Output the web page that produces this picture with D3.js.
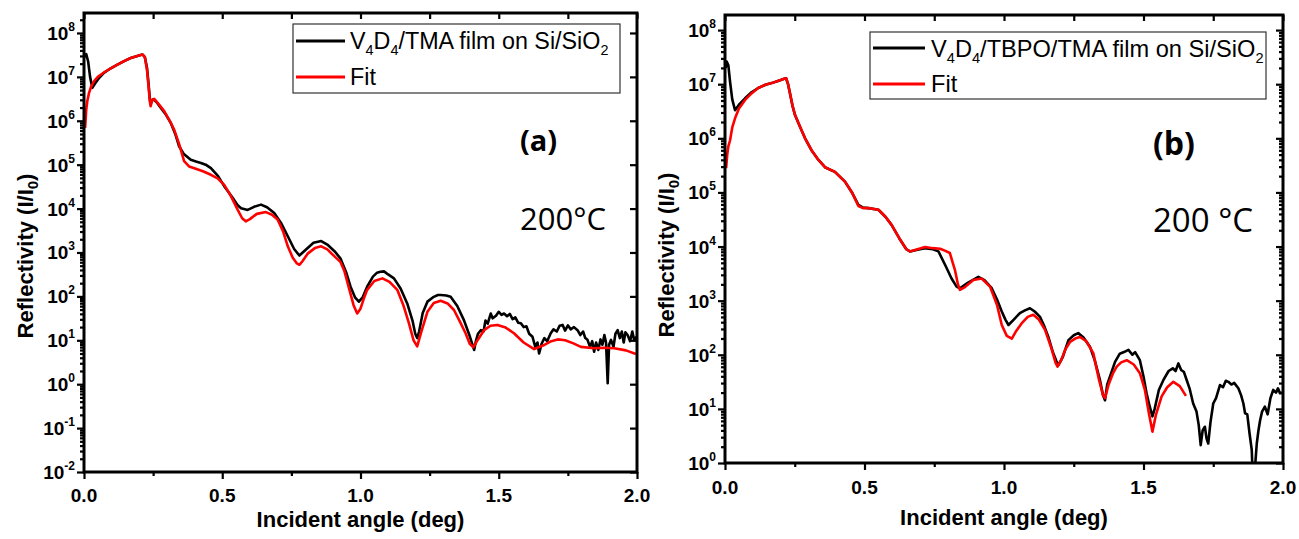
<!DOCTYPE html>
<html><head><meta charset="utf-8">
<script src="https://cdn.jsdelivr.net/npm/d3@7"></script>
<style>
html,body{margin:0;padding:0;background:#fff;}
svg text{font-family:"Liberation Sans",Arial,sans-serif;}
</style></head>
<body>
<svg id="chart" width="1299" height="539"></svg>
<script>
// ---------- DATA (angle in deg, reflectivity I/I0) ----------
// log10 of reflectivity
const measA_angle = [0.002,0.008,0.015,0.022,0.030,0.040,0.055,0.072,0.095,0.121,0.145,0.169,0.190,0.205,0.212,0.220,0.228,0.234,0.238,0.241,0.245,0.250,0.262,0.278,0.295,0.314,0.330,0.344,0.360,0.386,0.405,0.423,0.440,0.459,0.485,0.507,0.535,0.555,0.568,0.592,0.615,0.640,0.662,0.688,0.712,0.737,0.760,0.779,0.800,0.830,0.858,0.880,0.906,0.928,0.948,0.964,0.980,0.994,1.008,1.024,1.045,1.060,1.072,1.085,1.100,1.121,1.145,1.169,1.188,1.198,1.205,1.212,1.225,1.242,1.265,1.280,1.290,1.310,1.326,1.350,1.374,1.392,1.405,1.411,1.418,1.425,1.435,1.445,1.452,1.460,1.471,1.478,1.490,1.500,1.510,1.519,1.530,1.540,1.550,1.560,1.570,1.580,1.590,1.600,1.610,1.622,1.632,1.640,1.646,1.655,1.665,1.675,1.688,1.698,1.710,1.720,1.731,1.740,1.750,1.760,1.772,1.785,1.795,1.805,1.813,1.821,1.830,1.838,1.845,1.852,1.860,1.868,1.875,1.882,1.888,1.894,1.899,1.906,1.915,1.922,1.930,1.938,1.945,1.952,1.958,1.966,1.975,1.983,1.990,1.998];
const measA_log10R = [7.45,7.52,7.35,7.00,6.75,6.85,6.98,7.09,7.19,7.28,7.36,7.43,7.47,7.50,7.51,7.45,7.20,6.80,6.50,6.38,6.46,6.49,6.43,6.29,6.15,5.95,5.70,5.42,5.25,5.11,5.07,5.04,5.00,4.92,4.74,4.51,4.27,4.08,4.01,3.97,4.04,4.09,4.03,3.90,3.68,3.37,3.08,2.93,3.05,3.22,3.26,3.18,3.03,2.86,2.55,2.22,1.98,1.88,1.98,2.22,2.45,2.54,2.56,2.57,2.50,2.41,2.18,1.84,1.45,1.15,1.05,1.20,1.62,1.88,1.99,2.03,2.03,2.02,1.99,1.78,1.46,1.15,0.90,0.78,1.00,1.15,1.23,1.20,1.45,1.38,1.61,1.50,1.56,1.65,1.58,1.61,1.55,1.60,1.48,1.52,1.40,1.39,1.30,1.32,1.15,1.08,0.85,0.95,0.70,0.92,1.05,0.98,1.16,1.25,1.20,1.33,1.35,1.22,1.34,1.25,1.30,1.23,1.12,1.20,1.05,1.01,0.85,0.98,0.74,0.95,0.78,1.02,0.90,1.12,0.95,0.02,0.90,1.01,0.85,1.15,1.23,1.05,1.20,0.95,1.18,1.12,0.98,1.20,1.00,1.08];

const fitA_angle = [0.004,0.008,0.012,0.018,0.026,0.036,0.050,0.072,0.095,0.121,0.145,0.169,0.190,0.205,0.212,0.220,0.228,0.234,0.238,0.241,0.247,0.254,0.270,0.290,0.310,0.326,0.345,0.362,0.380,0.399,0.430,0.459,0.485,0.507,0.530,0.556,0.572,0.585,0.600,0.625,0.658,0.680,0.700,0.720,0.737,0.755,0.770,0.779,0.790,0.810,0.835,0.858,0.880,0.906,0.928,0.942,0.960,0.975,0.988,1.000,1.012,1.024,1.050,1.079,1.105,1.133,1.155,1.175,1.192,1.205,1.218,1.242,1.265,1.290,1.315,1.338,1.360,1.380,1.395,1.408,1.425,1.447,1.470,1.495,1.525,1.555,1.590,1.628,1.660,1.690,1.713,1.740,1.770,1.797,1.845,1.880,1.918,1.960,1.996];
const fitA_log10R = [5.84,6.25,6.45,6.63,6.78,6.90,7.00,7.10,7.19,7.28,7.36,7.43,7.47,7.50,7.51,7.45,7.15,6.75,6.45,6.33,6.48,6.50,6.38,6.22,6.00,5.80,5.45,5.08,4.96,4.92,4.85,4.77,4.68,4.54,4.30,3.97,3.78,3.71,3.76,3.88,3.92,3.86,3.75,3.48,3.14,2.88,2.75,2.72,2.80,2.98,3.10,3.14,3.07,2.91,2.78,2.57,2.15,1.80,1.61,1.72,1.95,2.15,2.35,2.41,2.33,2.15,1.80,1.39,1.00,0.86,1.15,1.65,1.85,1.90,1.84,1.69,1.42,1.16,0.92,0.84,1.02,1.23,1.33,1.35,1.29,1.16,0.95,0.80,0.88,0.98,1.02,1.00,0.93,0.85,0.82,0.83,0.82,0.77,0.69];

const measB_angle = [0.002,0.006,0.012,0.018,0.026,0.036,0.050,0.072,0.095,0.119,0.145,0.167,0.195,0.212,0.219,0.226,0.233,0.242,0.251,0.270,0.287,0.310,0.335,0.360,0.394,0.430,0.455,0.478,0.495,0.514,0.550,0.575,0.597,0.625,0.650,0.663,0.690,0.717,0.745,0.765,0.790,0.812,0.830,0.842,0.870,0.908,0.930,0.956,0.975,0.992,1.005,1.016,1.035,1.057,1.075,1.093,1.110,1.129,1.145,1.159,1.175,1.188,1.195,1.210,1.231,1.250,1.266,1.285,1.308,1.325,1.344,1.355,1.362,1.370,1.380,1.398,1.415,1.430,1.446,1.460,1.470,1.487,1.500,1.511,1.522,1.532,1.540,1.555,1.571,1.590,1.605,1.615,1.625,1.635,1.645,1.655,1.665,1.678,1.690,1.698,1.705,1.712,1.720,1.726,1.732,1.740,1.750,1.760,1.774,1.785,1.795,1.804,1.815,1.825,1.840,1.850,1.858,1.864,1.872,1.880,1.888,1.892,1.898,1.906,1.912,1.918,1.925,1.935,1.945,1.955,1.965,1.975,1.982,1.989,1.998];
const measB_log10R = [7.30,7.42,7.35,7.05,6.72,6.52,6.62,6.74,6.85,6.93,6.99,7.02,7.07,7.10,7.11,7.00,6.83,6.60,6.43,6.20,6.00,5.78,5.60,5.46,5.38,5.20,5.00,4.77,4.72,4.71,4.68,4.55,4.40,4.15,3.95,3.91,3.94,3.97,3.95,3.91,3.65,3.41,3.26,3.23,3.33,3.44,3.38,3.23,3.02,2.80,2.65,2.55,2.65,2.77,2.82,2.86,2.80,2.70,2.52,2.33,2.05,1.88,1.81,1.95,2.27,2.36,2.40,2.32,2.15,1.90,1.53,1.25,1.16,1.45,1.60,1.87,2.02,2.05,2.09,2.00,2.05,1.90,1.60,1.29,1.05,0.86,1.00,1.35,1.53,1.70,1.75,1.70,1.84,1.72,1.68,1.53,1.38,1.10,0.95,0.70,0.33,0.60,0.67,0.45,0.36,0.75,1.10,1.20,1.44,1.40,1.52,1.50,1.45,1.48,1.38,1.25,1.10,0.92,0.90,0.55,0.24,-0.30,-0.20,0.36,0.60,0.79,0.95,1.04,0.90,1.20,1.35,1.30,1.38,1.29,1.30];

const fitB_angle = [0.004,0.008,0.012,0.018,0.026,0.036,0.050,0.072,0.095,0.119,0.145,0.167,0.195,0.212,0.219,0.226,0.233,0.242,0.251,0.270,0.287,0.310,0.335,0.360,0.394,0.430,0.455,0.478,0.495,0.514,0.550,0.575,0.597,0.625,0.650,0.663,0.690,0.717,0.745,0.771,0.790,0.806,0.815,0.824,0.835,0.842,0.860,0.890,0.920,0.950,0.975,0.992,1.010,1.028,1.045,1.063,1.085,1.105,1.125,1.147,1.170,1.185,1.192,1.205,1.220,1.237,1.255,1.272,1.295,1.320,1.340,1.355,1.362,1.375,1.390,1.404,1.420,1.440,1.465,1.487,1.505,1.520,1.532,1.545,1.565,1.585,1.607,1.630,1.652];
const fitB_log10R = [5.45,5.70,5.85,5.96,6.20,6.37,6.55,6.71,6.83,6.93,6.99,7.02,7.07,7.10,7.11,7.00,6.83,6.60,6.43,6.20,6.00,5.78,5.60,5.46,5.38,5.20,5.00,4.75,4.71,4.71,4.68,4.55,4.40,4.15,3.95,3.91,3.95,3.99,3.97,3.96,3.92,3.88,3.72,3.57,3.30,3.20,3.25,3.38,3.41,3.26,2.92,2.55,2.35,2.30,2.45,2.58,2.70,2.74,2.65,2.46,2.12,1.85,1.78,1.90,2.10,2.24,2.30,2.33,2.25,2.03,1.55,1.25,1.20,1.45,1.65,1.78,1.86,1.90,1.82,1.66,1.35,0.90,0.58,0.90,1.23,1.40,1.50,1.42,1.24];

const xTicks = [0, 0.5, 1.0, 1.5, 2.0];
const xMinorTicks = [0.25, 0.75, 1.25, 1.75];
const yExpA = [-2,-1,0,1,2,3,4,5,6,7,8];
const yExpB = [0,1,2,3,4,5,6,7,8];
const legendA = "TMA";
const legendB = "TBPO/TMA";

// ---------- DRAW ----------
const svg = d3.select("#chart");
const toPts = (xs, ls) => xs.map((x,i)=>({x, y: Math.pow(10, ls[i])}));

function panel(cfg){
  const g = svg.append("g");
  const x = d3.scaleLinear().domain([0,2]).range([cfg.left, cfg.right]);
  const y = d3.scaleLog().domain(cfg.yDomain).range([cfg.bottom, cfg.top]);
  const decades = cfg.exps.map(e=>Math.pow(10,e));
  const minors = [];
  cfg.exps.forEach(e=>{ for(let k=2;k<=9;k++){ const v=k*Math.pow(10,e); if(v<=cfg.yDomain[1]) minors.push(v);} });
  const clipId = "clip"+cfg.id;
  svg.append("clipPath").attr("id",clipId).append("rect")
    .attr("x",cfg.left).attr("y",cfg.top).attr("width",cfg.right-cfg.left).attr("height",cfg.bottom-cfg.top);

  const line = d3.line().x(d=>x(d.x)).y(d=>y(Math.max(d.y,1e-3)));
  const curves = g.append("g").attr("clip-path",`url(#${clipId})`);
  curves.append("path").datum(cfg.meas).attr("d",line).attr("fill","none").attr("stroke","#000").attr("stroke-width",2.6).attr("stroke-linejoin","round");
  curves.append("path").datum(cfg.fit).attr("d",line).attr("fill","none").attr("stroke","#ff0000").attr("stroke-width",2.6).attr("stroke-linejoin","round");

  const axStyle = sel => { sel.select(".domain").remove(); sel.selectAll("line").attr("stroke","#000").attr("stroke-width",2.2); sel.selectAll("text").remove(); };
  // bottom
  g.append("g").attr("transform",`translate(0,${cfg.bottom})`).call(d3.axisBottom(x).tickValues(xTicks).tickSize(7)).call(axStyle);
  g.append("g").attr("transform",`translate(0,${cfg.bottom})`).call(d3.axisBottom(x).tickValues(xMinorTicks).tickSize(4)).call(axStyle);
  // top inward
  g.append("g").attr("transform",`translate(0,${cfg.top})`).call(d3.axisTop(x).tickValues(xTicks.concat(xMinorTicks)).tickSize(-6)).call(axStyle);
  // left outward
  g.append("g").attr("transform",`translate(${cfg.left},0)`).call(d3.axisLeft(y).tickValues(decades).tickSize(7)).call(axStyle);
  g.append("g").attr("transform",`translate(${cfg.left},0)`).call(d3.axisLeft(y).tickValues(minors).tickSize(4)).call(axStyle);
  // right inward
  g.append("g").attr("transform",`translate(${cfg.right},0)`).call(d3.axisRight(y).tickValues(decades).tickSize(-7)).call(axStyle);
  if(cfg.rightMinor) g.append("g").attr("transform",`translate(${cfg.right},0)`).call(d3.axisRight(y).tickValues(minors).tickSize(-4)).call(axStyle);

  // frame
  g.append("rect").attr("x",cfg.left).attr("y",cfg.top).attr("width",cfg.right-cfg.left).attr("height",cfg.bottom-cfg.top)
    .attr("fill","none").attr("stroke","#000").attr("stroke-width",3);

  // x labels
  xTicks.forEach(t=>{
    g.append("text").attr("x",x(t)).attr("y",cfg.bottom+cfg.xlabDy).attr("text-anchor","middle")
      .attr("font-size",19).attr("font-weight","bold").text(d3.format(".1f")(t));
  });
  // y labels
  cfg.exps.forEach(e=>{
    const t = g.append("text").attr("x",cfg.left-9).attr("y",y(Math.pow(10,e))+7).attr("text-anchor","end").attr("font-weight","bold");
    t.append("tspan").attr("font-size",19).text("10");
    t.append("tspan").attr("font-size",12).attr("dy",-9).text(String(e));
  });
  // axis titles
  g.append("text").attr("x",(cfg.left+cfg.right)/2).attr("y",cfg.xtY).attr("text-anchor","middle")
    .attr("font-size",22).attr("font-weight","bold").text("Incident angle (deg)");
  const yt = g.append("text").attr("transform",`translate(${cfg.ytX},${cfg.ytY}) rotate(-90)`)
    .attr("text-anchor","middle").attr("font-size",22).attr("font-weight","bold");
  yt.append("tspan").text("Reflectivity (I/I");
  yt.append("tspan").attr("font-size",15).attr("dy",5).text("0");
  yt.append("tspan").attr("dy",-5).text(")");

  // legend
  const L = cfg.legend;
  g.append("rect").attr("x",L.x0).attr("y",L.y0).attr("width",L.x1-L.x0).attr("height",L.y1-L.y0)
    .attr("fill","#fff").attr("stroke","#333").attr("stroke-width",1.2);
  g.append("line").attr("x1",L.lx0).attr("x2",L.lx1).attr("y1",L.r1).attr("y2",L.r1).attr("stroke","#000").attr("stroke-width",3);
  g.append("line").attr("x1",L.lx0).attr("x2",L.lx1).attr("y1",L.r2).attr("y2",L.r2).attr("stroke","#ff0000").attr("stroke-width",3);
  const lt = g.append("text").attr("x",L.tx).attr("y",L.b1).attr("font-size",L.fs);
  lt.append("tspan").text("V");
  lt.append("tspan").attr("font-size",L.fs*0.62).attr("dy",6).text("4");
  lt.append("tspan").attr("dy",-6).text("D");
  lt.append("tspan").attr("font-size",L.fs*0.62).attr("dy",6).text("4");
  lt.append("tspan").attr("dy",-6).text("/"+cfg.legendText+" film on Si/SiO");
  lt.append("tspan").attr("font-size",L.fs*0.62).attr("dy",6).text("2");
  g.append("text").attr("x",L.tx).attr("y",L.b2).attr("font-size",L.fs).text("Fit");

  // annotations
  g.append("text").attr("x",cfg.ann.x).attr("y",cfg.ann.y1).style("font-family","'Open Sans',sans-serif")
    .attr("font-weight","bold").attr("font-size",cfg.ann.fs1).text(cfg.ann.t1);
  g.append("text").attr("x",cfg.ann.x).attr("y",cfg.ann.y2).style("font-family","'Open Sans',sans-serif")
    .attr("font-size",cfg.ann.fs2).text(cfg.ann.t2);
}

panel({id:"A", left:84, right:637, top:13, bottom:472, yDomain:[1e-2, 2.85e8], exps:yExpA, rightMinor:false,
  meas: toPts(measA_angle, measA_log10R), fit: toPts(fitA_angle, fitA_log10R), ytX:33, ytY:256, xlabDy:30, xtY:527, legendText:legendA,
  legend:{x0:293,x1:620,y0:24,y1:93,lx0:296,lx1:345,r1:41,r2:77,tx:350,b1:49,b2:85,fs:23.3},
  ann:{x:520,y1:151,y2:230,fs1:29,fs2:31,t1:"(a)",t2:"200°C"}});

panel({id:"B", left:725, right:1283, top:15, bottom:463, yDomain:[1, 1.9e8], exps:yExpB, rightMinor:true,
  meas: toPts(measB_angle, measB_log10R), fit: toPts(fitB_angle, fitB_log10R), ytX:674, ytY:255, xlabDy:31, xtY:525, legendText:legendB,
  legend:{x0:870,x1:1266,y0:32,y1:99,lx0:873,lx1:925,r1:48,r2:84,tx:931,b1:57,b2:92,fs:23.6},
  ann:{x:1153,y1:155,y2:232,fs1:32,fs2:33,t1:"(b)",t2:"200 °C"}});
</script>
</body></html>
